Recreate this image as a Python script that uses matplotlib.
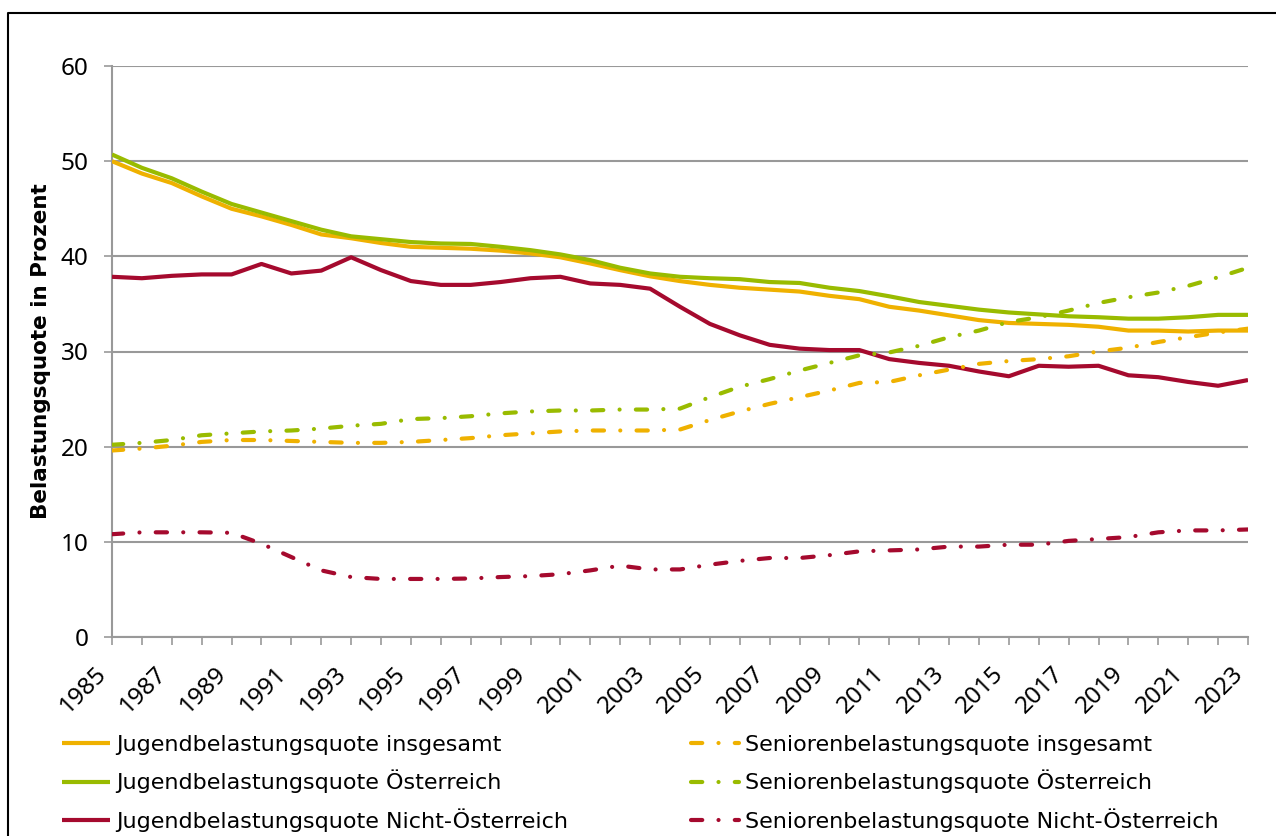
import matplotlib
matplotlib.use("Agg")
import matplotlib.pyplot as plt
from matplotlib.lines import Line2D
import numpy as np

years = list(range(1985, 2024))

jug_ges = [50.0, 48.7, 47.7, 46.3, 45.0, 44.2, 43.3, 42.3, 41.9, 41.4,
           41.0, 40.9, 40.8, 40.6, 40.3, 39.9, 39.25, 38.55, 37.9, 37.4,
           37.0, 36.7, 36.5, 36.3, 35.85, 35.5, 34.7, 34.3, 33.8, 33.3,
           33.0, 32.9, 32.8, 32.6, 32.2, 32.2, 32.1, 32.2, 32.2]
jug_oe = [50.7, 49.3, 48.2, 46.8, 45.5, 44.6, 43.7, 42.8, 42.1, 41.8,
          41.5, 41.35, 41.3, 41.0, 40.65, 40.2, 39.6, 38.8, 38.2, 37.85,
          37.7, 37.6, 37.3, 37.2, 36.7, 36.35, 35.8, 35.2, 34.8, 34.4,
          34.1, 33.9, 33.7, 33.6, 33.45, 33.45, 33.6, 33.85, 33.85]
jug_noe = [37.85, 37.7, 37.95, 38.1, 38.1, 39.2, 38.2, 38.5, 39.9, 38.55,
           37.4, 37.0, 37.0, 37.3, 37.7, 37.85, 37.15, 37.0, 36.6, 34.7,
           32.9, 31.7, 30.7, 30.3, 30.15, 30.15, 29.2, 28.8, 28.5, 27.9,
           27.4, 28.5, 28.4, 28.5, 27.5, 27.3, 26.8, 26.4, 27.0]
sen_ges = [19.6, 19.8, 20.1, 20.5, 20.7, 20.7, 20.6, 20.5, 20.4, 20.4,
           20.5, 20.7, 20.9, 21.2, 21.4, 21.6, 21.7, 21.7, 21.7, 21.8,
           22.8, 23.7, 24.5, 25.2, 25.9, 26.7, 26.8, 27.5, 28.1, 28.7,
           29.0, 29.2, 29.5, 30.0, 30.4, 31.0, 31.5, 32.0, 32.4]
sen_oe = [20.2, 20.4, 20.7, 21.2, 21.4, 21.6, 21.7, 21.9, 22.2, 22.4,
          22.9, 23.0, 23.2, 23.5, 23.7, 23.8, 23.8, 23.9, 23.9, 24.0,
          25.2, 26.3, 27.1, 28.0, 28.8, 29.6, 29.9, 30.6, 31.5, 32.2,
          33.1, 33.6, 34.3, 35.1, 35.7, 36.2, 36.9, 37.8, 38.8]
sen_noe = [10.8, 11.0, 11.0, 11.0, 10.95, 9.8, 8.4, 7.0, 6.3, 6.1,
           6.1, 6.1, 6.15, 6.3, 6.4, 6.6, 7.0, 7.5, 7.1, 7.1,
           7.6, 8.0, 8.3, 8.3, 8.6, 9.0, 9.1, 9.2, 9.5, 9.5,
           9.7, 9.7, 10.1, 10.3, 10.5, 11.0, 11.2, 11.2, 11.3]

labels_jug = ["Jugendbelastungsquote insgesamt",
              "Jugendbelastungsquote Österreich",
              "Jugendbelastungsquote Nicht-Österreich"]
labels_sen = ["Seniorenbelastungsquote insgesamt",
              "Seniorenbelastungsquote Österreich",
              "Seniorenbelastungsquote Nicht-Österreich"]
y_ticks = [0, 10, 20, 30, 40, 50, 60]
x_tick_labels = [str(y) for y in years[::2]]

ORANGE = "#EFB100"
GREEN = "#99BB00"
RED = "#A50A2E"
GRID = "#999999"

W, H = 1276, 836
fig = plt.figure(figsize=(W / 100, H / 100), dpi=100)
ax = fig.add_axes([112 / W, 1 - 637 / H, (1248 - 112) / W, (637 - 66) / H])

lw = 3.0
dashdot = (0, (2.7, 3.9, 0.01, 3.9))

series_jug = [jug_ges, jug_oe, jug_noe]
series_sen = [sen_ges, sen_oe, sen_noe]
colors = [ORANGE, GREEN, RED]

h_jug, h_sen = [], []
for s, c, lab in zip(series_jug, colors, labels_jug):
    ln, = ax.plot(years, s, color=c, lw=lw, solid_capstyle="butt", label=lab, zorder=3)
    h_jug.append(ln)
for s, c, lab in zip(series_sen, colors, labels_sen):
    ln, = ax.plot(years, s, color=c, lw=lw, linestyle=dashdot,
                  dash_capstyle="round", label=lab, zorder=3)
    h_sen.append(ln)

ax.set_xlim(1985, 2023)
ax.set_ylim(0, 60)
ax.set_yticks(y_ticks)
ax.set_xticks(years, minor=True)
ax.set_xticks(years[::2])
ax.set_xticklabels(x_tick_labels, rotation=45, ha="right", rotation_mode="default")
ax.yaxis.grid(True, color=GRID, lw=1.5)
ax.set_axisbelow(True)
for sp in ["top", "right"]:
    ax.spines[sp].set_visible(False)
for sp in ["left", "bottom"]:
    ax.spines[sp].set_color(GRID)
    ax.spines[sp].set_linewidth(1.5)

tickfont = "Noto Sans"
ax.tick_params(axis="y", length=6, width=1.2, color=GRID, pad=11,
               labelsize=17.5, labelcolor="black")
ax.tick_params(axis="x", which="both", length=6, width=1.2, color=GRID, pad=12,
               labelsize=17.5, labelcolor="black")
for t in ax.get_xticklabels() + ax.get_yticklabels():
    t.set_fontfamily(tickfont)

ax.set_ylabel("Belastungsquote in Prozent", fontsize=15.5, fontweight="bold",
              family="DejaVu Sans")
ax.yaxis.set_label_coords((51 - 112) / (1248 - 112), 0.5)

leg_kw = dict(frameon=False, handlelength=2.15, handletextpad=0.3,
              labelspacing=0.66, borderpad=0, borderaxespad=0,
              prop={"family": "DejaVu Sans", "size": 16}, loc="upper left")
leg1 = fig.legend(h_jug, labels_jug, bbox_to_anchor=(62 / W, 1 - 735 / H), **leg_kw)
leg2 = fig.legend(h_sen, labels_sen, bbox_to_anchor=(691 / W, 1 - 735 / H), **leg_kw)

# outer frame (partially visible)
fig.add_artist(Line2D([8 / W, 8 / W, 1.0], [0.0, 1 - 13 / H, 1 - 13 / H],
                      transform=fig.transFigure, color="black", lw=1.5))

fig.savefig("out.png", dpi=100)
